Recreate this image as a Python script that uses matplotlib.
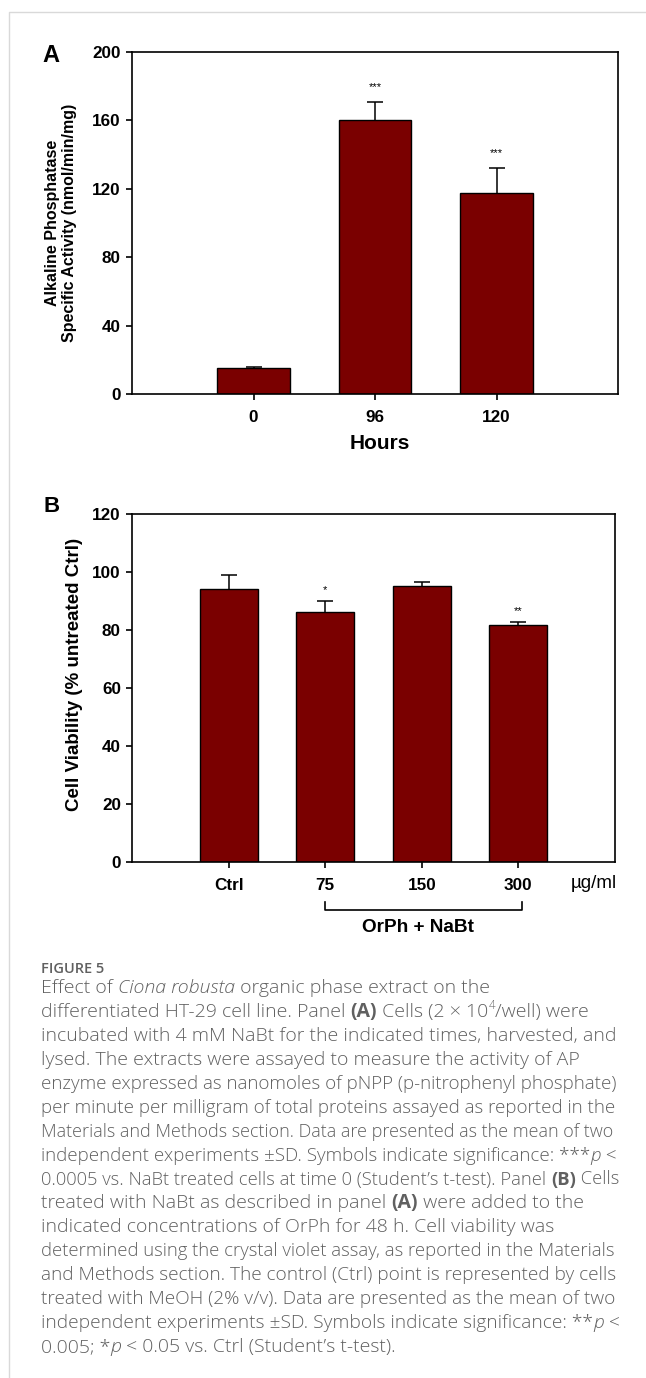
import matplotlib
matplotlib.use('Agg')
import matplotlib.pyplot as plt
from matplotlib.font_manager import FontProperties
from matplotlib.lines import Line2D
import matplotlib.transforms as mtrans

# panel A data
hours = ['0', '96', '120']
ap_mean = [15.0, 160.0, 117.5]
ap_sd = [1.0, 10.8, 14.7]
ap_sig = ['', '***', '***']

# panel B data
conc = ['Ctrl', '75', '150', '300']
viab_mean = [94.0, 86.3, 95.3, 81.6]
viab_sd = [5.0, 3.7, 1.2, 1.1]
viab_sig = ['', '*', '', '**']

caption_title = 'FIGURE 5'
caption = [
    [('Effect of ', ''), ('Ciona robusta', 'i'), (' organic phase extract on the', '')],
    [('differentiated HT-29 cell line. Panel ', ''), ('(A)', 'b'), (' Cells (2 \u00d7 10', ''), ('4', 'sup'), ('/well) were', '')],
    [('incubated with 4 mM NaBt for the indicated times, harvested, and', '')],
    [('lysed. The extracts were assayed to measure the activity of AP', '')],
    [('enzyme expressed as nanomoles of pNPP (p-nitrophenyl phosphate)', '')],
    [('per minute per milligram of total proteins assayed as reported in the', '')],
    [('Materials and Methods section. Data are presented as the mean of two', '')],
    [('independent experiments \u00b1SD. Symbols indicate significance: ***', ''), ('p', 'i'), (' <', '')],
    [('0.0005 vs. NaBt treated cells at time 0 (Student\u2019s t-test). Panel ', ''), ('(B)', 'b'), (' Cells', '')],
    [('treated with NaBt as described in panel ', ''), ('(A)', 'b'), (' were added to the', '')],
    [('indicated concentrations of OrPh for 48 h. Cell viability was', '')],
    [('determined using the crystal violet assay, as reported in the Materials', '')],
    [('and Methods section. The control (Ctrl) point is represented by cells', '')],
    [('treated with MeOH (2% v/v). Data are presented as the mean of two', '')],
    [('independent experiments \u00b1SD. Symbols indicate significance: **', ''), ('p', 'i'), (' <', '')],
    [('0.005; *', ''), ('p', 'i'), (' < 0.05 vs. Ctrl (Student\u2019s t-test).', '')],
]

bar_color = '#7a0000'
W, H = 646, 1378
plt.rcParams['font.family'] = ['Liberation Sans', 'DejaVu Sans']
plt.rcParams['font.weight'] = 'bold'

fig = plt.figure(figsize=(W / 100, H / 100), dpi=100)


def style_axes(ax):
    for s in ax.spines.values():
        s.set_linewidth(1.2)
    ax.tick_params(direction='out', length=4.5, width=1.2, labelsize=12.3,
                   top=False, right=False)
    for lab in ax.get_xticklabels() + ax.get_yticklabels():
        lab.set_fontweight('bold')


def bars(ax, means, sds, sigs, star_off):
    x = list(range(1, len(means) + 1))
    ax.bar(x, means, width=0.6, color=bar_color, edgecolor='black', linewidth=1.0, zorder=2)
    # upper error only, no cap at the bar top
    _, caps, _ = ax.errorbar(x, means, yerr=[[0] * len(sds), sds], fmt='none', ecolor='black',
                             elinewidth=1.1, capsize=6, capthick=1.1, zorder=3)
    if caps:
        caps[0].set_visible(False)
    for xi, m, s, sig in zip(x, means, sds, sigs):
        if sig:
            ax.annotate(sig, (xi, m + s), xytext=(0, star_off), textcoords='offset points',
                        ha='center', va='center', fontsize=8, fontweight='normal')
    return x


# ---- panel A
axA = fig.add_axes([132 / W, 1 - 394 / H, 486 / W, 342 / H])
xa = bars(axA, ap_mean, ap_sd, ap_sig, 11)
axA.set_xlim(0, 4)
axA.set_ylim(0, 200)
axA.set_yticks([0, 40, 80, 120, 160, 200])
axA.set_xticks(xa)
axA.set_xticklabels(hours)
style_axes(axA)
axA.tick_params(axis='x', pad=7)
axA.set_ylabel('Alkaline Phosphatase\nSpecific Activity (nmol/min/mg)', fontsize=11.5,
               fontweight='bold', linespacing=1.1)
axA.yaxis.set_label_coords(-0.146, 0.5)
axA.yaxis.label.set_va('center')
axA.set_xlabel('Hours', fontsize=15, fontweight='bold')
axA.xaxis.set_label_coords(0.51, -0.146)
axA.xaxis.label.set_va('center')

# ---- panel B
axB = fig.add_axes([132 / W, 1 - 862 / H, 483 / W, 348 / H])
xb = bars(axB, viab_mean, viab_sd, viab_sig, 8)
axB.set_xlim(0, 5)
axB.set_ylim(0, 120)
axB.set_yticks([0, 20, 40, 60, 80, 100, 120])
axB.set_xticks(xb)
axB.set_xticklabels(conc)
style_axes(axB)
axB.tick_params(axis='x', pad=7)
axB.set_ylabel('Cell Viability (% untreated Ctrl)', fontsize=13.5, fontweight='bold')
axB.yaxis.set_label_coords(-0.120, 0.539)
axB.yaxis.label.set_va('center')

tB = mtrans.blended_transform_factory(axB.transData, axB.transAxes)
axB.text(4.78, -0.063, '\u00b5g/ml', transform=tB, ha='center', va='center',
         fontsize=13.5, fontweight='normal')
axB.add_line(Line2D([2.0, 2.0, 4.04, 4.04], [-0.115, -0.138, -0.138, -0.115],
                    transform=tB, color='black', linewidth=1.2, clip_on=False))
axB.text(2.96, -0.187, 'OrPh + NaBt', transform=tB, ha='center', va='center',
         fontsize=13.7, fontweight='bold')

fig.text(51 / W, 1 - 55.5 / H, 'A', fontsize=17, fontweight='bold', ha='center', va='center')
fig.text(52 / W, 1 - 506.5 / H, 'B', fontsize=16, fontweight='bold', ha='center', va='center')

# frame lines
fig.add_artist(Line2D([9.3 / W, 9.3 / W, 1.0], [0.0, 1 - 11.7 / H, 1 - 11.7 / H],
                      transform=fig.transFigure, color='#d9d9d9', linewidth=1.0))

# ---- caption
cap_color = '#606060'
cap_font = 'Open Sans'
renderer = fig.canvas.get_renderer()


def seg_props(st, size):
    fp = FontProperties(family=cap_font, size=size if st != 'sup' else size * 0.6,
                        weight='bold' if st == 'b' else 'light',
                        style='italic' if st == 'i' else 'normal')
    return fp


def seg_width(txt, fp):
    w1 = renderer.get_text_width_height_descent('|' + txt + '|', fp, False)[0]
    w0 = renderer.get_text_width_height_descent('||', fp, False)[0]
    return w1 - w0


def rich_line(x0, yc, segs, size, maxw):
    total = sum(seg_width(t, seg_props(s, size)) for t, s in segs)
    if total > maxw:
        size = size * maxw / total
    x = x0
    for t, s in segs:
        fp = seg_props(s, size)
        yy = yc - (6.5 if s == 'sup' else 0)
        fig.text(x / W, 1 - yy / H, t, fontproperties=fp, color=cap_color,
                 ha='left', va='center')
        x += seg_width(t, fp) * 100 / fig.dpi


fig.text(41 / W, 1 - 969 / H, caption_title, family=cap_font, fontsize=10.5,
         fontweight='semibold', color=cap_color, ha='left', va='center')
for i, segs in enumerate(caption):
    rich_line(41, 988.3 + i * 23.9, segs, 14.0, 578)

fig.savefig('out.png', dpi=100)
